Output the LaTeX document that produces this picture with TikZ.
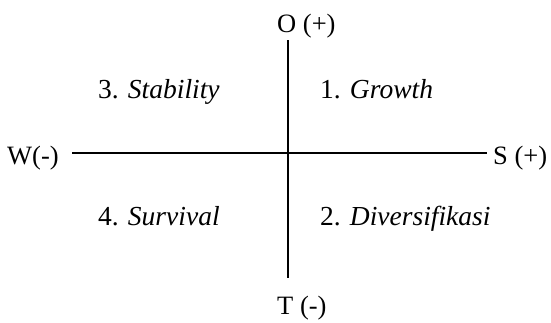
\documentclass[tikz,border=0pt]{standalone}
\usepackage{fontspec}
\setmainfont{Liberation Serif}
\usetikzlibrary{positioning}

\begin{document}
\begin{tikzpicture}[x=1pt, y=-1pt,
      axislabel/.style={inner sep=0pt, anchor=base west, font=\fontsize{26.5}{31}\selectfont},
      quadrant/.style={inner sep=0pt, anchor=base west, font=\fontsize{27.5}{32}\selectfont},
      axis/.style={line width=1.4pt}
    ]
      \useasboundingbox (0,0) rectangle (551,322);

      % Axis ends
      \coordinate (top) at (288,40);
      \coordinate (bottom) at (288,278);
      \coordinate (left) at (72,153);
      \coordinate (right) at (487,153);

      % Axis labels
      \node[axislabel] (opp) at (277,32) {O (+)};
      \node[axislabel] (thr) at (277,314) {T (-)};
      \node[axislabel] (wea) at (7,164) {W(-)};
      \node[axislabel] (str) at (493,164) {S (+)};

      % Axes
      \draw[axis] (top) -- (bottom);
      \draw[axis] (left) -- (right);

      % Quadrants
      \node[quadrant] (q3) at (98,98) {3. \textit{Stability}};
      \node[quadrant] (q1) at (320,98) {1. \textit{Growth}};
      \node[quadrant] (q4) at (98,225) {4. \textit{Survival}};
      \node[quadrant] (q2) at (320,225) {2. \textit{Diversifikasi}};
    \end{tikzpicture}
\end{document}
